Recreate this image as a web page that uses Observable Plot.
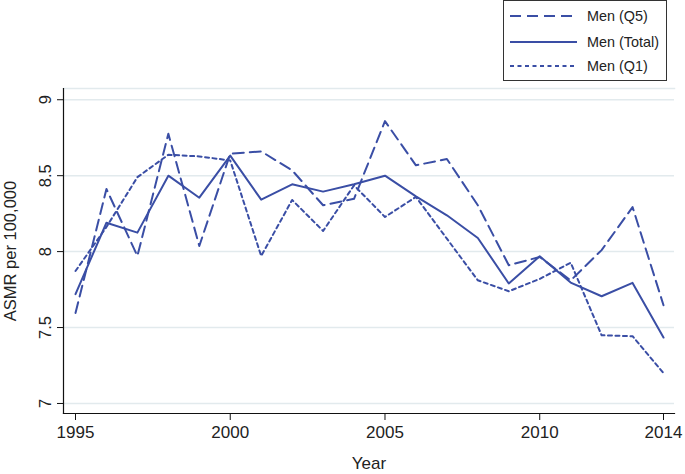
<!DOCTYPE html>
<html>
<head>
<meta charset="utf-8">
<script src="https://cdn.jsdelivr.net/npm/d3@7"></script>
<script src="https://cdn.jsdelivr.net/npm/@observablehq/plot@0.6"></script>
<style>
  html, body { margin: 0; padding: 0; background: #fff; }
  #wrap { position: relative; width: 685px; height: 474px; font-family: "Liberation Sans", Arial, Helvetica, sans-serif; }
  #legend { position: absolute; left: 503px; top: 0px; width: 164px; height: 81px; border: 1px solid #333; background: #fff; box-sizing: border-box; }
  .row { position: absolute; left: 6px; height: 20px; display: flex; align-items: center; }
  .row span { font-size: 14.4px; color: #222; margin-left: 9px; }
</style>
</head>
<body>
<div id="wrap"></div>
<script>
const years = [1995,1996,1997,1998,1999,2000,2001,2002,2003,2004,2005,2006,2007,2008,2009,2010,2011,2012,2013,2014];
const q5    = [7.596,8.412,7.971,8.776,8.037,8.645,8.660,8.535,8.305,8.348,8.859,8.568,8.610,8.305,7.910,7.965,7.810,8.010,8.293,7.647];
const total = [7.720,8.190,8.125,8.500,8.355,8.632,8.342,8.443,8.395,8.443,8.500,8.364,8.239,8.090,7.790,7.969,7.796,7.706,7.794,7.434];
const q1    = [7.872,8.162,8.490,8.638,8.627,8.600,7.971,8.340,8.136,8.436,8.228,8.360,8.085,7.811,7.739,7.820,7.927,7.449,7.443,7.200];
const yTicks = [7, 7.5, 8, 8.5, 9];
const xTicks = [1995, 2000, 2005, 2010, 2014];
const seriesLabels = ["Men (Q5)", "Men (Total)", "Men (Q1)"];
const dashes = ["11,6", null, "4,3.5"];
const color = "#3a4ea5";

const series = [q5, total, q1];

const chart = Plot.plot({
  width: 685,
  height: 474,
  marginLeft: 63,
  marginRight: 11,
  marginTop: 88,
  marginBottom: 61,
  style: { fontFamily: "'Liberation Sans', Arial, Helvetica, sans-serif", fontSize: "16.5px", color: "#222", background: "#fff" },
  x: { domain: [1994.612, 2014.355] },
  y: { domain: [6.934, 9.074] },
  marks: [
    Plot.gridY(yTicks, { stroke: "#e2eaed", strokeOpacity: 1, strokeWidth: 1.5 }),
    Plot.frame({ anchor: "top", stroke: "#e2eaed", strokeWidth: 1.5 }),
    ...series.map((s, k) => Plot.line(years, {
      x: d => d,
      y: (d, i) => s[i],
      stroke: color,
      strokeWidth: 2,
      strokeDasharray: dashes[k] || undefined
    })),
    Plot.frame({ anchor: "left", stroke: "#111", strokeWidth: 1.2 }),
    Plot.frame({ anchor: "bottom", stroke: "#111", strokeWidth: 1.2 }),
    Plot.axisX(xTicks, {
      tickFormat: d => String(d),
      tickSize: 7,
      tickPadding: 5,
      stroke: "#111",
      label: "Year",
      labelAnchor: "center",
      labelArrow: "none",
      labelOffset: 55,
      fontSize: 17
    }),
    Plot.axisY(yTicks, {
      tickFormat: d => String(d),
      tickSize: 6,
      tickPadding: 7,
      tickRotate: -90,
      textAnchor: "middle",
      lineAnchor: "bottom",
      stroke: "#111",
      label: "ASMR per 100,000",
      labelAnchor: "center",
      labelArrow: "none",
      labelOffset: 59
    })
  ]
});

const wrap = document.getElementById("wrap");
wrap.appendChild(chart);

const legend = document.createElement("div");
legend.id = "legend";
const rowTops = [5, 31, 55];
seriesLabels.forEach((lab, k) => {
  const row = document.createElement("div");
  row.className = "row";
  row.style.top = rowTops[k] + "px";
  const svg = d3.create("svg").attr("width", 68).attr("height", 20);
  svg.append("line").attr("x1", 0).attr("x2", 67).attr("y1", 10).attr("y2", 10)
    .attr("stroke", color).attr("stroke-width", 2)
    .attr("stroke-dasharray", dashes[k] || null);
  row.appendChild(svg.node());
  const sp = document.createElement("span");
  sp.textContent = lab;
  row.appendChild(sp);
  legend.appendChild(row);
});
wrap.appendChild(legend);
</script>
</body>
</html>
